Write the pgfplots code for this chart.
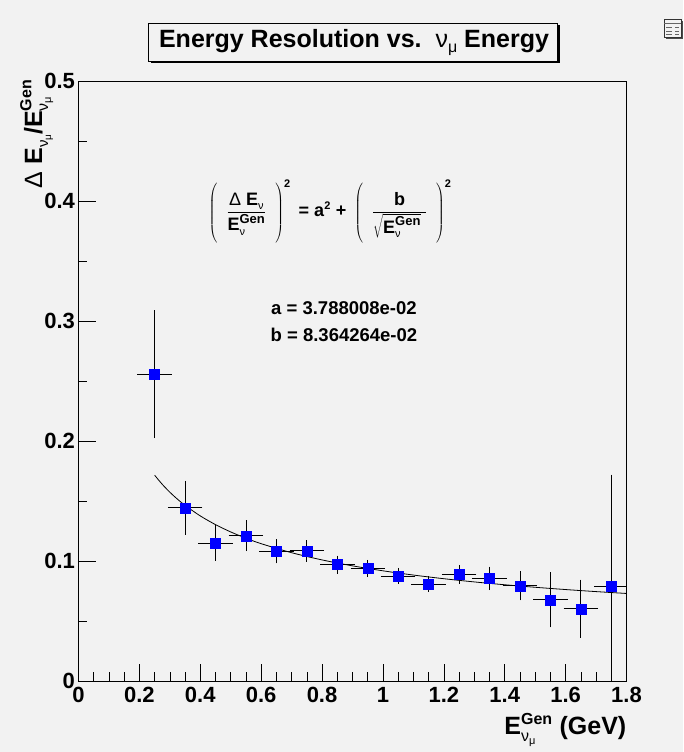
\documentclass[border=0pt]{standalone}
\usepackage{fontspec}
\setmainfont{Liberation Sans}
\usepackage{pgfplots}
\pgfplotsset{compat=1.18}
\definecolor{bg}{RGB}{242,242,242}
\definecolor{mblue}{RGB}{0,0,255}
\newcommand{\fs}[1]{\fontsize{#1}{#1}\selectfont}
\newcommand{\pstrut}{\rule[-27pt]{0pt}{56pt}}
\pgfplotstableread{
x     y       ex    ey
0.25  0.2556  0.05  0.0515
0.35  0.1443  0.05  0.0207
0.45  0.1150  0.05  0.0130
0.55  0.1210  0.05  0.0112
0.65  0.1080  0.05  0.0083
0.75  0.1085  0.05  0.0073
0.85  0.0970  0.05  0.0058
0.95  0.0938  0.05  0.0055
1.05  0.0876  0.05  0.0049
1.15  0.0808  0.05  0.0048
1.25  0.0888  0.05  0.0063
1.35  0.0855  0.05  0.0082
1.45  0.0793  0.05  0.0105
1.55  0.0677  0.05  0.0214
1.65  0.0602  0.05  0.0227
1.75  0.0786  0.05  0.0917
}\datatable
\begin{document}
\begin{tikzpicture}[x=1pt,y=1pt]
\useasboundingbox (0,0) rectangle (683,752);
\fill[bg] (0,0) rectangle (683,752);
% title box with shadow
\fill[black] (150.5,688.5) rectangle (559.5,726.5);
\filldraw[fill=bg, draw=black, line width=0.8pt] (148,691) rectangle (557,729);
\node at (354,710) {\fs{25}\bfseries Energy Resolution vs.\ \ {\mdseries ν\raisebox{-5pt}{\fs{16}μ}} Energy};
% small icon top right
\fill[black!70] (666,713) rectangle (683,731);
\filldraw[fill=bg, draw=black!80, line width=0.6pt] (664,715) rectangle (681,733);
\draw[black!60, line width=0.5pt] (664,729) -- (681,729) (666,725) -- (672,725) (675,725) -- (679,725) (666,721) -- (672,721) (675,721) -- (679,721) (666,718) -- (672,718) (675,718) -- (679,718);
\begin{axis}[
  at={(78.5pt,71pt)}, anchor=south west, scale only axis,
  width=548pt, height=600pt,
  xmin=0, xmax=1.8, ymin=0, ymax=0.5,
  axis line style={line width=0.8pt},
  tick align=inside, xtick pos=bottom, ytick pos=left,
  xtick={0,0.2,0.4,0.6,0.8,1,1.2,1.4,1.6,1.8},
  xticklabels={0,0.2,0.4,0.6,0.8,1,1.2,1.4,1.6,1.8},
  ytick={0,0.1,0.2,0.3,0.4,0.5},
  yticklabels={0,0.1,0.2,0.3,0.4,0.5},
  minor x tick num=3, minor y tick num=1,
  major tick length=17pt, minor tick length=8.5pt,
  tick style={black, line width=0.6pt},
  ticklabel style={font=\fs{22}\bfseries},
  xticklabel style={yshift=-3pt},
  xlabel={$\mbox{E}^{\mbox{\fs{16}Gen}}_{\mbox{\fs{16}\mdseries ν\raisebox{-3pt}{\fs{11}μ}}}$ (GeV)},
  xlabel style={at={(axis description cs:1,-0.09)}, anchor=base east, inner sep=0pt, font=\fs{25}\bfseries},
  ylabel={{\mdseries Δ} E\raisebox{-6pt}{\fs{15}\mdseries ν\raisebox{-3pt}{\fs{10}μ}}/$\mbox{E}^{\mbox{\fs{16}Gen}}_{\mbox{\fs{16}\mdseries ν\raisebox{-3pt}{\fs{11}μ}}}$},
  ylabel style={at={(axis description cs:-0.0666,1.003)}, anchor=base east, inner sep=0pt, font=\fs{25}\bfseries},
]
\addplot[black, line width=0.8pt, smooth] coordinates {
(0.25,0.17152) (0.275,0.16394) (0.3,0.15734) (0.325,0.15153) (0.35,0.14637) (0.4,0.13757)
(0.45,0.13031) (0.5,0.12421) (0.55,0.11898) (0.6,0.11443) (0.7,0.10691) (0.8,0.10090)
(0.9,0.09596) (1.0,0.09182) (1.1,0.08829) (1.2,0.08524) (1.3,0.08256) (1.4,0.08020)
(1.5,0.07810) (1.6,0.07621) (1.7,0.07450) (1.8,0.07295)};
\addplot[only marks, mark=square*, mark size=5pt, mark options={fill=mblue, draw=mblue},
  error bars/.cd, x dir=both, x explicit, y dir=both, y explicit,
  error bar style={black, line width=0.7pt},
  error mark options={black, mark size=2pt, line width=0.7pt}]
  table[x=x, y=y, x error=ex, y error=ey] {\datatable};
\node[inner sep=0pt] at (axis cs:0.826,0.391) {\fs{18}\bfseries $\displaystyle \left(\pstrut\enskip\frac{\mbox{{\mdseries Δ} E\raisebox{-4pt}{\fs{11}\mdseries ν}}}{\mbox{E}^{\mbox{\fs{13}Gen}}_{\mbox{\fs{11}\mdseries ν}}}\enskip\right)^{\mbox{\fs{11}2}} \mbox{ = a}^{\mbox{\fs{11}2}}\mbox{ + }\left(\pstrut\enskip\frac{\mbox{b}}{\sqrt{\mbox{E}^{\mbox{\fs{13}Gen}}_{\mbox{\fs{11}\mdseries ν}}}\;}\enskip\right)^{\mbox{\fs{11}2}}$};
\node at (axis cs:0.872,0.3108) {\fs{18.5}\bfseries a = 3.788008e-02};
\node at (axis cs:0.872,0.2883) {\fs{18.5}\bfseries b = 8.364264e-02};
\end{axis}
\end{tikzpicture}
\end{document}
